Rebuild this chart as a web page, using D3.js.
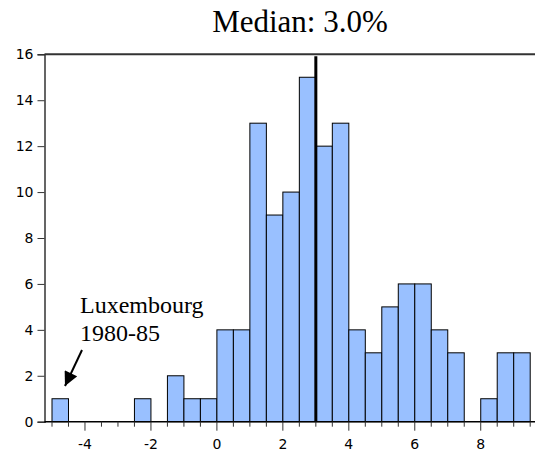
<!DOCTYPE html>
<html><head><meta charset="utf-8">
<script src="https://cdn.jsdelivr.net/npm/d3@7"></script>
<style>body{margin:0;background:#fff}</style>
</head><body>
<svg id="c" width="535" height="457"></svg>
<script>
const binStarts = [-5,-4.5,-4,-3.5,-3,-2.5,-2,-1.5,-1,-0.5,0,0.5,1,1.5,2,2.5,3,3.5,4,4.5,5,5.5,6,6.5,7,7.5,8,8.5,9];
const counts    = [ 1,  0,  0,  0,  0,  1,  0,  2,  1,  1,4,4,  13, 9, 10,15,12,13, 4, 3, 5, 6, 6, 4, 3, 0, 1, 3, 3];
const binWidth = 0.5;
const xTickValues = [-4,-2,0,2,4,6,8];
const yTickValues = [0,2,4,6,8,10,12,14,16];
const median = 3.0;
const titleText = "Median: 3.0%";
const annotLines = ["Luxembourg","1980-85"];

const svg = d3.select("#c");
const x = d3.scaleLinear().domain([-5, 9.5]).range([52, 530.2]);
const y = d3.scaleLinear().domain([0, 16]).range([421.7, 54.3]);
const sans = "DejaVu Sans, sans-serif";
const serif = "Liberation Serif, Times New Roman, serif";

// bars
svg.append("g").selectAll("rect").data(binStarts.map((s,i)=>({s,c:counts[i]})).filter(d=>d.c>0))
  .join("rect")
  .attr("x", d=>x(d.s)).attr("width", d=>x(d.s+binWidth)-x(d.s))
  .attr("y", d=>y(d.c)).attr("height", d=>y(0)-y(d.c))
  .attr("fill","#99c0ff").attr("stroke","#000").attr("stroke-width",1);

// median line
svg.append("line").attr("x1",x(median)).attr("x2",x(median))
  .attr("y1",y(16)+2).attr("y2",y(0)).attr("stroke","#000").attr("stroke-width",3);

// frame top
svg.append("line").attr("x1",44.5).attr("x2",535).attr("y1",54.3).attr("y2",54.3)
  .attr("stroke","#333").attr("stroke-width",2);

// y axis
const yAxis = svg.append("g").attr("transform","translate(44.5,0)")
  .call(d3.axisLeft(y).tickValues(yTickValues).tickSize(7).tickPadding(4));
yAxis.select(".domain").attr("stroke","#333").attr("stroke-width",1.5);
yAxis.selectAll(".tick line").attr("stroke","#333");
yAxis.selectAll("text").attr("font-family",sans).attr("font-size",14).attr("fill","#000");

// x axis: minor ticks every 0.5
const minor = d3.range(-5, 9.51, 0.5);
const xg = svg.append("g");
xg.append("line").attr("x1",44.5).attr("x2",535).attr("y1",y(0)).attr("y2",y(0))
  .attr("stroke","#000").attr("stroke-width",1.5);
xg.selectAll("line.t").data(minor).join("line").attr("class","t")
  .attr("x1",d=>x(d)).attr("x2",d=>x(d))
  .attr("y1",y(0)).attr("y2",d=> xTickValues.includes(d) ? y(0)+9 : y(0)+5)
  .attr("stroke","#333").attr("stroke-width",1);
xg.selectAll("text").data(xTickValues).join("text")
  .attr("x",d=>x(d)).attr("y",449).attr("text-anchor","middle")
  .attr("font-family",sans).attr("font-size",14)
  .text(d=>d);

// title
svg.append("text").attr("x",300).attr("y",32).attr("text-anchor","middle")
  .attr("font-family",serif).attr("font-size",31)
  .text(titleText);

// annotation
svg.append("g").selectAll("text").data(annotLines).join("text")
  .attr("x",80).attr("y",(d,i)=>313+i*28)
  .attr("font-family",serif).attr("font-size",24)
  .text(d=>d);

svg.append("defs").append("marker").attr("id","ah").attr("viewBox","0 0 10 10")
  .attr("refX",10).attr("refY",5).attr("markerWidth",7.5).attr("markerHeight",7)
  .attr("markerUnits","strokeWidth").attr("orient","auto")
  .append("path").attr("d","M0,0L10,5L0,10z").attr("fill","#000");
svg.append("line").attr("x1",82).attr("y1",350).attr("x2",65).attr("y2",386)
  .attr("stroke","#000").attr("stroke-width",2).attr("marker-end","url(#ah)");
</script>
</body></html>
